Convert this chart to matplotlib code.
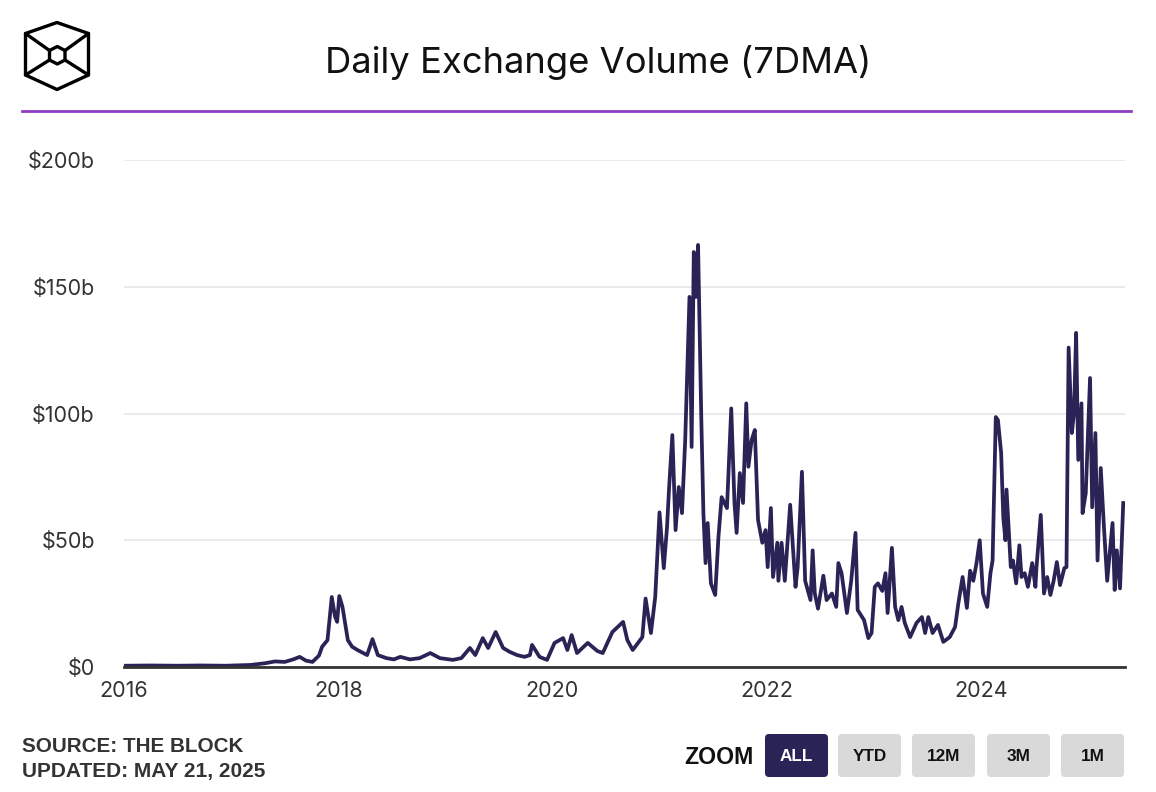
import matplotlib
matplotlib.use("Agg")
import matplotlib.pyplot as plt
from matplotlib.patches import FancyBboxPatch, Polygon

# ---------------------------------------------------------------------------
# Data: decimal year vs 7DMA exchange volume ($b)
# ---------------------------------------------------------------------------
YEARS = [
    2016.00, 2016.24, 2016.50, 2016.71, 2016.95, 2017.18, 2017.32, 2017.41, 2017.50, 2017.58,
    2017.64, 2017.70, 2017.76, 2017.82, 2017.85, 2017.90, 2017.94, 2017.97, 2017.99, 2018.01,
    2018.04, 2018.09, 2018.13, 2018.18, 2018.27, 2018.32, 2018.37, 2018.45, 2018.52, 2018.58,
    2018.67, 2018.76, 2018.86, 2018.95, 2019.07, 2019.15, 2019.23, 2019.28, 2019.35, 2019.40,
    2019.47, 2019.54, 2019.60, 2019.67, 2019.74, 2019.79, 2019.81, 2019.88, 2019.95, 2020.02,
    2020.10, 2020.14, 2020.18, 2020.23, 2020.33, 2020.42, 2020.47, 2020.56, 2020.66, 2020.70,
    2020.75, 2020.84, 2020.87, 2020.92, 2020.96, 2021.00, 2021.04, 2021.07, 2021.09, 2021.12,
    2021.15, 2021.18, 2021.21, 2021.24, 2021.28, 2021.30, 2021.32, 2021.34, 2021.36, 2021.39,
    2021.41, 2021.43, 2021.45, 2021.48, 2021.52, 2021.55, 2021.58, 2021.63, 2021.67, 2021.70,
    2021.72, 2021.75, 2021.78, 2021.81, 2021.83, 2021.86, 2021.89, 2021.92, 2021.96, 2021.99,
    2022.01, 2022.04, 2022.06, 2022.10, 2022.11, 2022.14, 2022.17, 2022.22, 2022.27, 2022.29,
    2022.33, 2022.36, 2022.41, 2022.43, 2022.45, 2022.48, 2022.53, 2022.56, 2022.61, 2022.65,
    2022.67, 2022.70, 2022.75, 2022.79, 2022.83, 2022.85, 2022.91, 2022.95, 2022.98, 2023.01,
    2023.04, 2023.08, 2023.11, 2023.13, 2023.17, 2023.20, 2023.23, 2023.26, 2023.29, 2023.34,
    2023.40, 2023.45, 2023.48, 2023.51, 2023.55, 2023.60, 2023.65, 2023.71, 2023.76, 2023.79,
    2023.83, 2023.87, 2023.90, 2023.93, 2023.96, 2023.99, 2024.02, 2024.06, 2024.09, 2024.11,
    2024.14, 2024.16, 2024.19, 2024.21, 2024.23, 2024.24, 2024.28, 2024.30, 2024.33, 2024.36,
    2024.38, 2024.41, 2024.44, 2024.48, 2024.51, 2024.52, 2024.56, 2024.59, 2024.62, 2024.65,
    2024.68, 2024.71, 2024.74, 2024.78, 2024.80, 2024.82, 2024.85, 2024.87, 2024.89, 2024.91,
    2024.94, 2024.95, 2024.98, 2025.02, 2025.04, 2025.07, 2025.09, 2025.12, 2025.15, 2025.18,
    2025.23, 2025.25, 2025.27, 2025.30, 2025.33,
]
VOLUME_B = [
    0.5, 0.6, 0.5, 0.6, 0.5, 0.8, 1.5, 2.2, 2.0, 3.0,
    4.0, 2.5, 2.0, 4.5, 8.0, 10.6, 27.6, 20.0, 17.8, 28.0,
    23.7, 10.6, 8.0, 6.7, 4.7, 11.0, 4.7, 3.5, 3.0, 4.0,
    3.0, 3.5, 5.5, 3.5, 2.8, 3.5, 7.5, 4.7, 11.4, 7.5,
    13.8, 7.5, 6.0, 4.7, 4.0, 4.7, 8.7, 4.0, 2.8, 9.5,
    11.4, 6.7, 12.6, 5.5, 9.5, 6.3, 5.5, 13.8, 17.8, 10.6,
    6.7, 11.8, 27.0, 13.4, 27.6, 61.0, 39.0, 55.0, 71.0, 91.5,
    54.0, 71.0, 60.7, 89.5, 146.0, 86.8, 163.7, 146.0, 166.5, 98.6,
    60.7, 41.0, 56.8, 33.0, 28.4, 51.0, 67.0, 62.7, 102.0, 64.7,
    52.9, 76.5, 64.7, 104.0, 79.0, 89.5, 93.5, 58.0, 49.0, 54.0,
    39.4, 62.7, 35.5, 49.0, 34.0, 49.0, 34.0, 64.0, 31.6, 39.4,
    77.0, 34.0, 26.4, 46.0, 29.0, 23.0, 36.0, 26.4, 29.0, 23.7,
    41.0, 37.0, 21.3, 34.0, 52.9, 22.5, 18.5, 11.4, 13.4, 31.6,
    33.0, 30.0, 37.0, 21.3, 47.0, 23.7, 18.5, 23.7, 17.4, 11.8,
    17.4, 19.7, 13.4, 19.7, 13.4, 16.6, 9.9, 11.8, 15.8, 25.0,
    35.5, 23.3, 38.0, 34.0, 41.0, 50.0, 29.0, 23.7, 37.0, 42.0,
    98.6, 97.4, 84.4, 59.0, 50.0, 70.0, 39.4, 42.0, 33.0, 48.0,
    35.5, 37.0, 31.6, 41.0, 31.6, 39.4, 60.0, 29.0, 35.5, 28.4,
    34.0, 41.4, 32.3, 39.0, 39.4, 126.0, 92.3, 100.0, 131.8, 81.7,
    104.0, 60.7, 68.6, 114.0, 63.0, 92.3, 42.0, 78.5, 55.0, 34.0,
    56.8, 30.4, 46.0, 31.0, 64.7,
]

Y_TICKS = [0, 50, 100, 150, 200]
Y_LABELS = ["$0", "$50b", "$100b", "$150b", "$200b"]
X_TICKS = [2016, 2018, 2020, 2022, 2024]
ZOOM_BUTTONS = ["ALL", "YTD", "12M", "3M", "1M"]

TITLE = "Daily Exchange Volume (7DMA)"
SOURCE = "SOURCE: THE BLOCK"
UPDATED = "UPDATED: MAY 21, 2025"

LINE_COLOR = "#2a2356"
TEXT_COLOR = "#333333"
W, H = 1156, 792

plt.rcParams["font.family"] = ["Inter", "DejaVu Sans"]
FOOT_FONT = ["Liberation Sans", "DejaVu Sans"]

fig = plt.figure(figsize=(W / 100, H / 100), dpi=100)

# --- main plot, placed by pixel box ---
left, right, top, bottom = 124, 1125, 160, 667
ax = fig.add_axes([left / W, (H - bottom) / H, (right - left) / W, (bottom - top) / H])
ax.plot(YEARS, VOLUME_B, color=LINE_COLOR, lw=2.7, solid_joinstyle="round", zorder=3)
ax.set_xlim(2016.0, 2016.0 + (right - left) / 107.1)
ax.set_ylim(0, 200)
ax.set_yticks(Y_TICKS, Y_LABELS)
ax.set_xticks(X_TICKS, [str(x) for x in X_TICKS])
ax.grid(axis="y", color="#e6e6e6", lw=1.2, zorder=0)
ax.tick_params(axis="both", length=0, labelsize=15.5, colors=TEXT_COLOR)
ax.tick_params(axis="y", pad=21)
ax.tick_params(axis="x", pad=10)
for side in ["top", "right", "left"]:
    ax.spines[side].set_visible(False)
ax.spines["bottom"].set_color(TEXT_COLOR)
ax.spines["bottom"].set_linewidth(2)
ax.spines["bottom"].set_zorder(4)

# --- overlay in pixel coordinates for header, logo and footer ---
ov = fig.add_axes([0, 0, 1, 1], zorder=-1)
ov.set_xlim(0, W)
ov.set_ylim(H, 0)
ov.axis("off")

ov.text(598, 62, TITLE, ha="center", va="center", fontsize=26.2, color="#111111")
ov.plot([22, 1131], [111, 111], color="#8c3fc4", lw=2)

# logo: cube outline with small inner hexagon
outer = [(57, 22.5), (88.5, 33.5), (88.5, 75), (57, 89.5), (25.5, 75), (25.5, 33.5)]
inner = [(57.3, 46.5), (65, 50.5), (65, 60), (57.3, 64), (49.5, 60), (49.5, 50.5)]
ov.add_patch(Polygon(outer, closed=True, fill=False, ec="black", lw=2.4, joinstyle="round"))
ov.add_patch(Polygon(inner, closed=True, fill=False, ec="black", lw=2.4, joinstyle="round"))
for (ox, oy), (ix, iy) in [(outer[5], inner[5]), (outer[1], inner[1]),
                           (outer[4], inner[4]), (outer[2], inner[2])]:
    ov.plot([ox, ix], [oy, iy], color="black", lw=2.4, solid_capstyle="round")

# footer
ov.text(22, 752, SOURCE, ha="left", va="baseline", fontsize=14.9, fontweight="bold",
        family=FOOT_FONT, color=TEXT_COLOR)
ov.text(22, 777, UPDATED, ha="left", va="baseline", fontsize=15, fontweight="bold",
        family=FOOT_FONT, color=TEXT_COLOR)
ov.text(719, 764, "ZOOM", ha="center", va="baseline", fontsize=16.7, fontweight="bold",
        family=FOOT_FONT, color="#111111")

btn_x = [765, 838, 912, 987, 1061]
btn_w = 63
for i, (bx, name) in enumerate(zip(btn_x, ZOOM_BUTTONS)):
    active = i == 0
    ov.add_patch(FancyBboxPatch((bx, 734), btn_w, 43, boxstyle="round,pad=0,rounding_size=4",
                                fc=LINE_COLOR if active else "#d9d9d9", ec="none"))
    ov.text(bx + btn_w / 2, 761, name, ha="center", va="baseline", fontsize=12.3,
            fontweight="bold", family=FOOT_FONT, color="white" if active else "#111111")

fig.savefig("out.png", dpi=100, facecolor="white")
